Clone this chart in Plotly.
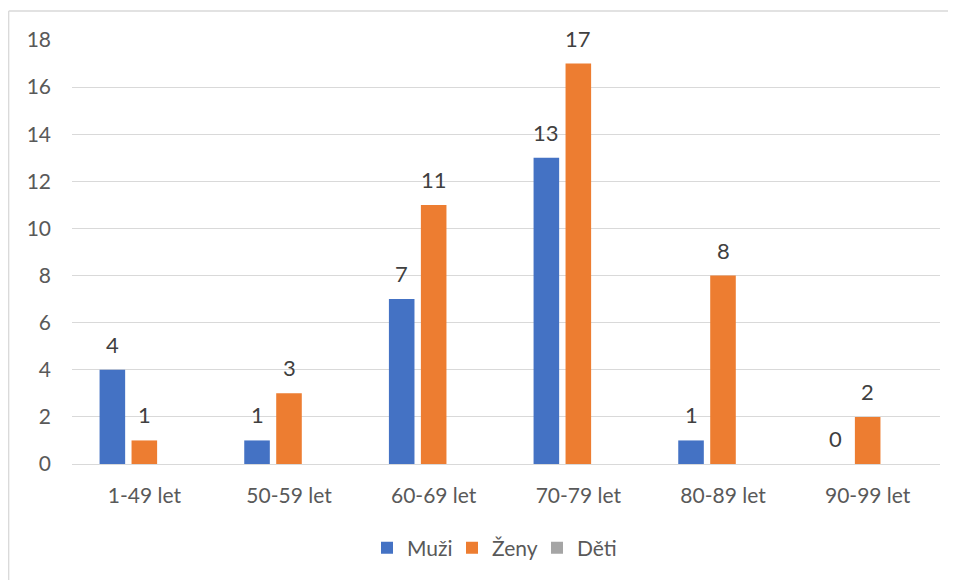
import plotly.graph_objects as go

categories = ["1-49 let", "50-59 let", "60-69 let", "70-79 let", "80-89 let", "90-99 let"]
muzi = [4, 1, 7, 13, 1, 0]
zeny = [1, 3, 11, 17, 8, 2]
deti = [None, None, None, None, None, None]

series = [
    ("Muži", muzi, "#4472C4"),
    ("Ženy", zeny, "#ED7D31"),
    ("Děti", deti, "#A5A5A5"),
]

FONT = "Lato"
W, H = 948, 572
ML, MR, MT, MB = 64, 16, 32, 116
PW, PH = W - ML - MR, H - MT - MB
BARGAP = 0.337

fig = go.Figure()
for name, vals, col in series:
    fig.add_trace(go.Bar(
        x=categories, y=vals, name=name,
        marker=dict(color=col, line=dict(width=0)),
        hoverinfo="skip",
    ))

# data labels (Excel-style, offset above bars)
slot = PW / len(categories) * (1 - BARGAP) / 3
for i, (name, vals, col) in enumerate(series):
    for c, v in zip(categories, vals):
        if v is None:
            continue
        fig.add_annotation(
            x=c, y=v, xref="x", yref="y", text=str(v), showarrow=False,
            xshift=(i - 1) * slot, yshift=10, yanchor="bottom",
            font=dict(family=FONT, size=22, color="#404040"),
        )

def px_x(p):
    return (p - ML) / PW

def px_y(p):
    return (MT + PH - p) / PH

shape_line = dict(color="#D9D9D9", width=1.3)
fig.add_shape(type="line", xref="paper", yref="paper",
              x0=px_x(0.7), x1=px_x(0.7), y0=px_y(3), y1=px_y(600), line=shape_line)
fig.add_shape(type="line", xref="paper", yref="paper",
              x0=px_x(0.7), x1=px_x(1000), y0=px_y(3), y1=px_y(3), line=shape_line)

fig.update_layout(
    width=W, height=H,
    margin=dict(l=ML, r=MR, t=MT, b=MB),
    paper_bgcolor="white", plot_bgcolor="white",
    barmode="group", bargap=BARGAP, bargroupgap=0.2,
    font=dict(family=FONT, size=21, color="#595959"),
    showlegend=True,
    legend=dict(orientation="h", x=px_x(359), xanchor="left", y=px_y(540), yanchor="middle",
                font=dict(family=FONT, size=21, color="#595959"),
                itemwidth=30, entrywidth=40, traceorder="normal"),
    xaxis=dict(showgrid=False, showline=False, ticks="", tickfont=dict(size=21),
               ticklabelstandoff=17),
    yaxis=dict(range=[0, 18], dtick=2, showgrid=True, gridcolor="#D9D9D9", gridwidth=1.3,
               zeroline=True, zerolinecolor="#D9D9D9", zerolinewidth=1.3,
               showline=False, ticks="", tickfont=dict(size=21), ticklabelstandoff=20),
)

fig.write_html("out.html")
